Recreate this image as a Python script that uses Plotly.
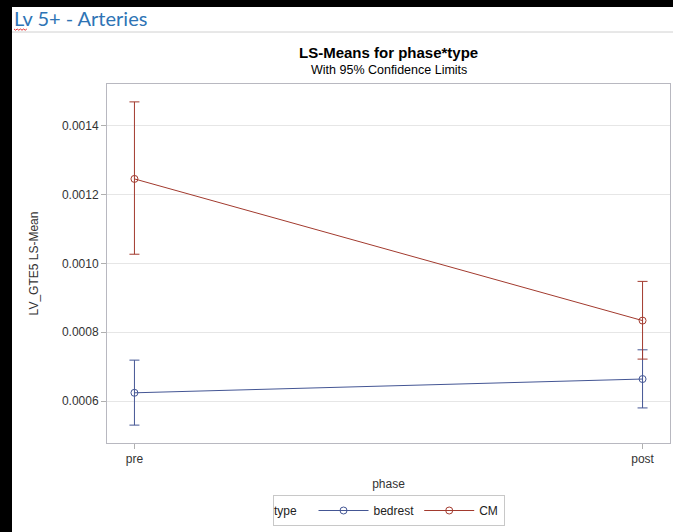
import plotly.graph_objects as go

phases = ["pre", "post"]
types = ["bedrest", "CM"]
means = {"bedrest": [0.000624, 0.000664], "CM": [0.001246, 0.000834]}
upper = {"bedrest": [0.000719, 0.000749], "CM": [0.001470, 0.000948]}
lower = {"bedrest": [0.000530, 0.000580], "CM": [0.001027, 0.000722]}
colors = {"bedrest": "#445694", "CM": "#A23A2E"}
yticks = [0.0006, 0.0008, 0.0010, 0.0012, 0.0014]
legend_title = "type"

W, H = 673, 532
L, R, T, B = 107, 3, 84, 89
pw, ph = W - L - R, H - T - B

def px(x):
    return (x - L) / pw

def py(y):
    return (H - B - y) / ph

fig = go.Figure()
for t in types:
    m = means[t]
    fig.add_trace(go.Scatter(
        x=phases, y=m, name=t, mode="lines+markers",
        line=dict(color=colors[t], width=1),
        marker=dict(symbol="circle-open", size=7, color=colors[t], line=dict(width=1)),
        error_y=dict(type="data", symmetric=False,
                     array=[u - v for u, v in zip(upper[t], m)],
                     arrayminus=[v - l for v, l in zip(m, lower[t])],
                     color=colors[t], thickness=1, width=5),
    ))

font = "Liberation Sans, Arial, sans-serif"
fig.update_layout(
    width=W, height=H,
    margin=dict(l=L, r=R, t=T, b=B),
    paper_bgcolor="white", plot_bgcolor="white",
    font=dict(family=font, size=11, color="#333333"),
    showlegend=True,
    legend=dict(orientation="h", x=0.5, xanchor="center", y=py(510.5), yanchor="middle",
                bordercolor="#c8c8c8", borderwidth=1, bgcolor="white",
                title=dict(text="\u00a0" * 9, side="left", font=dict(size=12, color="#222")),
                font=dict(size=12, color="#222"), itemwidth=50,
                tracegroupgap=0),
    xaxis=dict(range=[-0.054, 1.054], showgrid=False, showline=True, mirror=True,
               linecolor="#b8b8c0", linewidth=1, ticks="outside", ticklen=5,
               tickcolor="#b0b0b0", tickfont=dict(size=12, color="#333"),
               title=dict(text="phase", font=dict(size=12, color="#333"), standoff=14),
               zeroline=False),
    yaxis=dict(range=[0.000478, 0.001522], tickvals=yticks, tickformat=".4f",
               showgrid=True, gridcolor="#e6e6e6", gridwidth=1,
               showline=True, mirror=True, linecolor="#b8b8c0", linewidth=1,
               ticks="outside", ticklen=5, tickcolor="#b0b0b0",
               tickfont=dict(size=12, color="#333"),
               title=dict(text="LV_GTE5 LS-Mean", font=dict(size=12, color="#333"), standoff=20),
               zeroline=False),
)

fig.add_annotation(text=legend_title, xref="paper", yref="paper",
                   x=px(272), y=py(510.5), xanchor="left", yanchor="middle", showarrow=False,
                   font=dict(family=font, size=12, color="#222"))
fig.add_annotation(text="<b>LS-Means for phase*type</b>", xref="paper", yref="paper",
                   x=0.5, y=py(53), showarrow=False, yanchor="middle",
                   font=dict(family=font, size=15, color="#000"))
fig.add_annotation(text="With 95% Confidence Limits", xref="paper", yref="paper",
                   x=0.5, y=py(70), showarrow=False, yanchor="middle",
                   font=dict(family=font, size=12.5, color="#000"))
fig.add_annotation(text="Lv 5+ - Arteries", xref="paper", yref="paper",
                   x=px(12), y=py(18), xanchor="left", yanchor="middle", showarrow=False,
                   font=dict(family="Lato, Open Sans, sans-serif", size=20, color="#2E74B5"))

# page decorations: black borders, frame line under heading, spellcheck squiggle
fig.add_shape(type="rect", xref="paper", yref="paper", x0=px(0), x1=px(12), y0=py(H), y1=py(0),
              fillcolor="black", line=dict(width=0), layer="above")
fig.add_shape(type="rect", xref="paper", yref="paper", x0=px(0), x1=px(W), y0=py(7), y1=py(0),
              fillcolor="black", line=dict(width=0), layer="above")
fig.add_shape(type="line", xref="paper", yref="paper", x0=px(12), x1=px(W), y0=py(32), y1=py(32),
              line=dict(color="#d0d0d0", width=1))
zig = "M {} {}".format(px(14), py(29))
for i in range(1, 9):
    zig += " L {} {}".format(px(14 + i * 1.6), py(29 + (1.2 if i % 2 else 0)))
fig.add_shape(type="path", xref="paper", yref="paper", path=zig,
              line=dict(color="#e03030", width=1))

fig.write_html("out.html", config={"displayModeBar": False},
               post_script="document.body.style.margin='0';document.body.style.overflow='hidden';")
